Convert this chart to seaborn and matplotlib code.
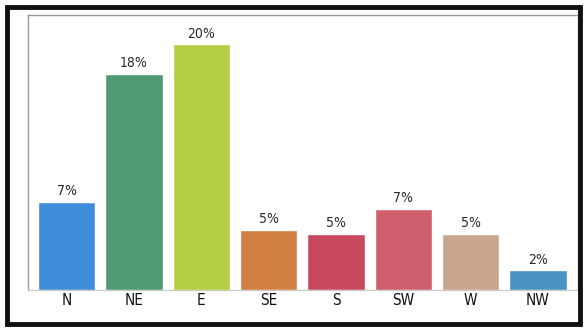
import matplotlib
matplotlib.use('Agg')
import matplotlib.pyplot as plt
import seaborn as sns
import pandas as pd
from matplotlib.patches import Rectangle

# wind direction frequency
directions = ['N', 'NE', 'E', 'SE', 'S', 'SW', 'W', 'NW']
percent = [7.2, 17.6, 20.0, 4.9, 4.6, 6.6, 4.6, 1.6]
colors = ['#3d8dd8', '#4f9a72', '#b4cf42', '#d17f42',
          '#c94a5e', '#cf5f6c', '#c9a58e', '#4893bf']

df = pd.DataFrame({'Direction': directions, 'Percent': percent})

sns.set_style('white')
plt.rcParams['font.family'] = ['DejaVu Sans']
plt.rcParams['font.stretch'] = 'condensed'

fig = plt.figure(figsize=(5.86, 3.30), dpi=100)
ax = fig.add_axes([0.048, 0.121, 0.938, 0.834])

sns.barplot(data=df, x='Direction', y='Percent', hue='Direction',
            palette=colors, legend=False, width=0.85, saturation=1, ax=ax)

for bar, v in zip(ax.patches, percent):
    ax.text(bar.get_x() + bar.get_width() / 2, bar.get_height() + 0.3,
            f'{v:.0f}%', ha='center', va='bottom', fontsize=10,
            color='#2a2a2a', fontstretch='condensed')

ax.set_xlim(-0.57, 7.59)
ax.set_ylim(0, 22.4)
ax.set_xlabel('')
ax.set_ylabel('')
ax.set_yticks([])
ax.tick_params(axis='x', length=0, pad=2, labelsize=11, labelcolor='#111111')
for lab in ax.get_xticklabels():
    lab.set_fontstretch('condensed')
for s in ['top', 'left', 'right']:
    ax.spines[s].set_color('#9a9a9a')
    ax.spines[s].set_linewidth(1.0)
ax.spines['bottom'].set_color('#c8c8c8')

# thick outer frame
fig.patches.append(Rectangle((0.012, 0.018), 0.978, 0.962, transform=fig.transFigure,
                             fill=False, edgecolor='#111111', linewidth=3.5))

plt.savefig('out.png', dpi=100)
plt.close()
